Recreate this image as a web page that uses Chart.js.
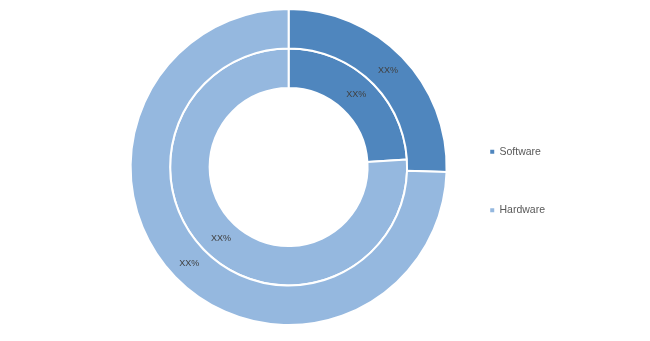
<!DOCTYPE html>
<html>
<head>
<meta charset="utf-8">
<script src="https://cdn.jsdelivr.net/npm/chart.js@4/dist/chart.umd.min.js"></script>
<style>
  html, body { margin: 0; padding: 0; background: #fff; }
  #wrap { width: 650px; height: 341px; position: relative; }
</style>
</head>
<body>
<div id="wrap"><canvas id="chart"></canvas></div>
<script>
// segments, same order in both rings
const categories = ["Software", "Hardware"];
// outer ring first (Chart.js draws the first dataset outermost)
const outerValues = [25.5, 74.5];
const innerValues = [24, 76];
const sliceLabels = ["XX%", "XX%"];
const colors = ["#4F86BE", "#95B8DF"];

// writes "XX%" in the middle of each arc
const arcLabels = {
  id: "arcLabels",
  afterDatasetsDraw(chart) {
    const ctx = chart.ctx;
    ctx.save();
    ctx.font = "9px 'Liberation Sans', sans-serif";
    ctx.fillStyle = "#404040";
    ctx.textAlign = "center";
    ctx.textBaseline = "middle";
    chart.data.datasets.forEach((ds, di) => {
      chart.getDatasetMeta(di).data.forEach((arc, i) => {
        const p = arc.tooltipPosition();
        ctx.fillText(sliceLabels[i], p.x, p.y);
      });
    });
    ctx.restore();
  },
};

// legend label padding also pads it sideways; pull it back a bit
const legendNudge = {
  id: "legendNudge",
  afterLayout(chart) {
    chart.legend.left -= 7;
    chart.legend.right -= 7;
  },
};

// default doughnut legend boxes get the white slice border; drop it
const baseLabels = Chart.overrides.doughnut.plugins.legend.labels.generateLabels;

new Chart(document.getElementById("chart"), {
  type: "doughnut",
  data: {
    labels: categories,
    datasets: [
      { data: outerValues, backgroundColor: colors, borderColor: "#fff", borderWidth: 2 },
      { data: innerValues, backgroundColor: colors, borderColor: "#fff", borderWidth: 2 },
    ],
  },
  options: {
    responsive: true,
    maintainAspectRatio: false,
    animation: false,
    cutout: "50%",
    layout: { padding: { left: 128, right: 88, top: 8, bottom: 15 } },
    plugins: {
      tooltip: { enabled: false },
      legend: {
        position: "right",
        align: "center",
        title: { display: true, text: "", padding: { top: 27, bottom: 0 }, font: { size: 1 } },
        labels: {
          boxWidth: 4,
          boxHeight: 4,
          padding: 48,
          color: "#595959",
          font: { family: "'Liberation Sans', sans-serif", size: 10.5 },
          generateLabels: (chart) => baseLabels(chart).map((l) => ({ ...l, lineWidth: 0 })),
        },
      },
    },
  },
  plugins: [arcLabels, legendNudge],
});
</script>
</body>
</html>
